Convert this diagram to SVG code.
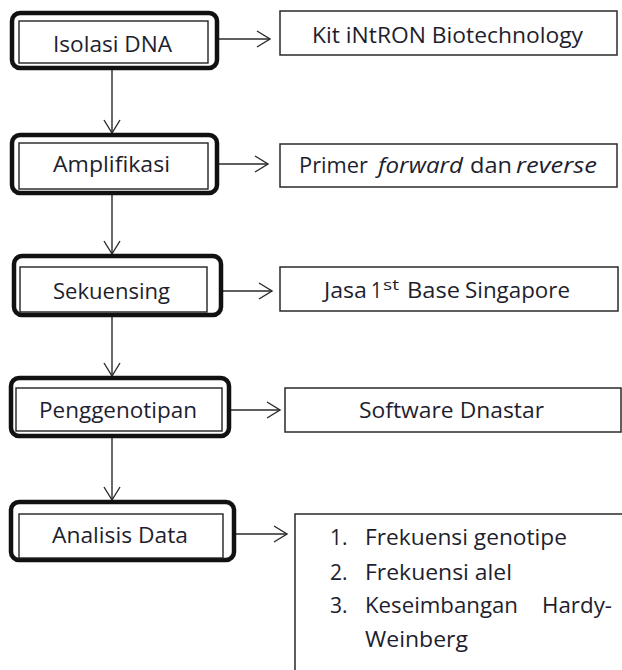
<svg xmlns="http://www.w3.org/2000/svg" width="622" height="670" viewBox="0 0 622 670">
<defs>
<marker id="arr" markerUnits="userSpaceOnUse" markerWidth="20" markerHeight="20" refX="14" refY="9" orient="auto" overflow="visible">
<path d="M1,1 L14,9 L1,17" fill="none" stroke="#2a2a2a" stroke-width="1.4"/>
</marker>
<style>
.outer{fill:#fff;stroke:#111;stroke-width:4.5}
.inner{fill:#fff;stroke:#222;stroke-width:1.4}
.box{fill:#fff;stroke:#2a2a2a;stroke-width:1.5}
.t{font-family:"Open Sans","Noto Sans","DejaVu Sans",sans-serif;font-size:21px;fill:#1e1e2e}
.i{font-style:italic}
.con{fill:none;stroke:#2a2a2a;stroke-width:1.4;marker-end:url(#arr)}
</style>
</defs>
<rect width="622" height="670" fill="#fff"/>

<g id="connectors">
<line class="con" x1="112" y1="70" x2="112" y2="133"/>
<line class="con" x1="112" y1="195" x2="112" y2="254"/>
<line class="con" x1="112" y1="317" x2="112" y2="376"/>
<line class="con" x1="112" y1="438" x2="112" y2="500"/>
<line class="con" x1="219" y1="39" x2="270" y2="39"/>
<line class="con" x1="219" y1="164" x2="268" y2="164"/>
<line class="con" x1="223" y1="291" x2="272" y2="291"/>
<line class="con" x1="231" y1="410" x2="280" y2="410"/>
<line class="con" x1="236" y1="534" x2="287" y2="534"/>
</g>

<g id="isolasi">
<rect class="outer" x="12" y="13" width="205" height="55" rx="8"/>
<rect class="inner" x="19" y="21" width="189" height="42"/>
<text class="t" x="53" y="52" textLength="119" lengthAdjust="spacingAndGlyphs">Isolasi DNA</text>
</g>

<g id="amplifikasi">
<rect class="outer" x="12" y="135" width="205" height="58" rx="8"/>
<rect class="inner" x="19" y="143" width="189" height="46"/>
<text class="t" x="53" y="172" textLength="117" lengthAdjust="spacingAndGlyphs">Amplifikasi</text>
</g>

<g id="sekuensing">
<rect class="outer" x="14" y="256" width="207" height="59" rx="8"/>
<rect class="inner" x="20" y="267" width="187" height="45"/>
<text class="t" x="53" y="299" textLength="117" lengthAdjust="spacingAndGlyphs">Sekuensing</text>
</g>

<g id="penggenotipan">
<rect class="outer" x="11" y="378" width="218" height="58" rx="8"/>
<rect class="inner" x="16" y="388" width="206" height="43"/>
<text class="t" x="39" y="418" textLength="158" lengthAdjust="spacingAndGlyphs">Penggenotipan</text>
</g>

<g id="analisis">
<rect class="outer" x="11" y="502" width="223" height="58" rx="8"/>
<rect class="inner" x="19" y="514" width="204" height="44"/>
<text class="t" x="52" y="543" textLength="136" lengthAdjust="spacingAndGlyphs">Analisis Data</text>
</g>

<g id="kit">
<rect class="box" x="280" y="11" width="337" height="44"/>
<text class="t" x="312" y="43" textLength="271" lengthAdjust="spacingAndGlyphs">Kit iNtRON Biotechnology</text>
</g>

<g id="primer">
<rect class="box" x="280" y="144" width="337" height="43"/>
<text class="t" y="173"><tspan x="299" textLength="69" lengthAdjust="spacingAndGlyphs">Primer</tspan><tspan class="i" x="378" textLength="85" lengthAdjust="spacingAndGlyphs">forward</tspan><tspan x="470" textLength="42" lengthAdjust="spacingAndGlyphs">dan</tspan><tspan class="i" x="516" textLength="81" lengthAdjust="spacingAndGlyphs">reverse</tspan></text>
</g>

<g id="jasa">
<rect class="box" x="280" y="267" width="338" height="44"/>
<text class="t" y="298"><tspan x="324" textLength="43" lengthAdjust="spacingAndGlyphs">Jasa</tspan><tspan x="371" textLength="11" lengthAdjust="spacingAndGlyphs">1</tspan><tspan x="383" y="290" font-size="14" textLength="16" lengthAdjust="spacingAndGlyphs">st</tspan><tspan x="407" y="298" textLength="53" lengthAdjust="spacingAndGlyphs">Base</tspan><tspan x="465" textLength="105" lengthAdjust="spacingAndGlyphs">Singapore</tspan></text>
</g>

<g id="software">
<rect class="box" x="285" y="388" width="336" height="44"/>
<text class="t" x="359" y="418" textLength="185" lengthAdjust="spacingAndGlyphs">Software Dnastar</text>
</g>

<g id="hasil">
<rect class="box" x="295" y="514" width="340" height="170"/>
<text class="t" x="330" y="545">1.</text>
<text class="t" x="365" y="545" textLength="202" lengthAdjust="spacingAndGlyphs">Frekuensi genotipe</text>
<text class="t" x="330" y="580">2.</text>
<text class="t" x="365" y="580" textLength="147" lengthAdjust="spacingAndGlyphs">Frekuensi alel</text>
<text class="t" x="330" y="613">3.</text>
<text class="t" x="365" y="613" textLength="153" lengthAdjust="spacingAndGlyphs">Keseimbangan</text>
<text class="t" x="542" y="613" textLength="70" lengthAdjust="spacingAndGlyphs">Hardy-</text>
<text class="t" x="365" y="647" textLength="103" lengthAdjust="spacingAndGlyphs">Weinberg</text>
</g>
</svg>
